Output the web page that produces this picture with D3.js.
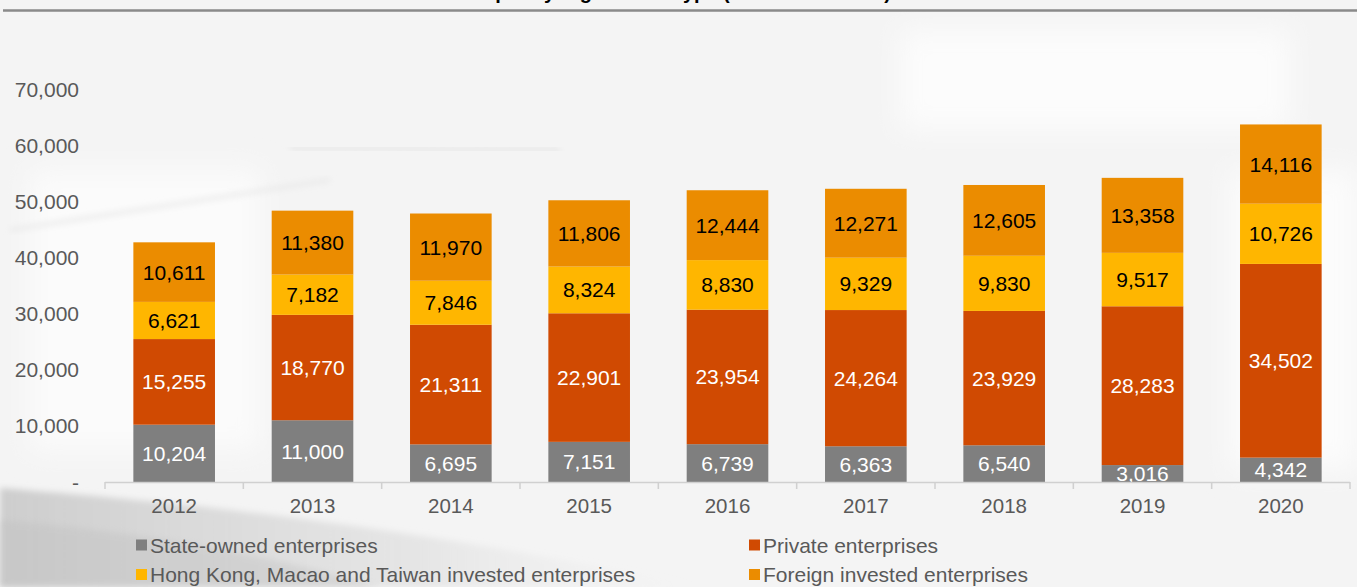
<!DOCTYPE html>
<html>
<head>
<meta charset="utf-8">
<script src="https://cdn.jsdelivr.net/npm/d3@7"></script>
<style>
  html, body { margin: 0; padding: 0; background: #f6f6f6; }
  svg { display: block; font-family: "Liberation Sans", Arial, sans-serif; }
</style>
</head>
<body>
<svg id="chart" width="1357" height="587"></svg>
<script>
// Industrial output by registration type, 2012-2020
const years = ["2012", "2013", "2014", "2015", "2016", "2017", "2018", "2019", "2020"];
const stateOwned = [10204, 11000, 6695, 7151, 6739, 6363, 6540, 3016, 4342];
const privateEnt = [15255, 18770, 21311, 22901, 23954, 24264, 23929, 28283, 34502];
const hkMacaoTaiwan = [6621, 7182, 7846, 8324, 8830, 9329, 9830, 9517, 10726];
const foreignInvested = [10611, 11380, 11970, 11806, 12444, 12271, 12605, 13358, 14116];
const yTicks = [0, 10000, 20000, 30000, 40000, 50000, 60000, 70000];

const seriesNames = [
  "State-owned enterprises",
  "Private enterprises",
  "Hong Kong, Macao and Taiwan invested enterprises",
  "Foreign invested enterprises"
];
const seriesColors = ["#7f7f7f", "#d04a02", "#ffb600", "#eb8c00"];
const labelColors = ["#ffffff", "#ffffff", "#000000", "#000000"];
const seriesValues = [stateOwned, privateEnt, hkMacaoTaiwan, foreignInvested];

const svg = d3.select("#chart");
const W = 1357, H = 587;

// ---- soft architectural backdrop ----
const defs = svg.append("defs");
const g1 = defs.append("linearGradient").attr("id", "bandGrad")
  .attr("x1", "0").attr("y1", "0").attr("x2", "1").attr("y2", "0");
g1.append("stop").attr("offset", "0").attr("stop-color", "#c9c9c9").attr("stop-opacity", 0.9);
g1.append("stop").attr("offset", "0.6").attr("stop-color", "#dcdcdc").attr("stop-opacity", 0.6);
g1.append("stop").attr("offset", "1").attr("stop-color", "#eeeeee").attr("stop-opacity", 0);
const soft = defs.append("filter").attr("id", "soft");
soft.append("feGaussianBlur").attr("stdDeviation", 3);
const haze = defs.append("filter").attr("id", "haze")
  .attr("x", "-20%").attr("y", "-20%").attr("width", "140%").attr("height", "140%");
haze.append("feGaussianBlur").attr("stdDeviation", 14);

const bg = svg.append("g").attr("class", "backdrop");
bg.append("rect").attr("width", W).attr("height", H).attr("fill", "#f4f4f4");
bg.append("rect").attr("x", 30).attr("y", 170).attr("width", 230).attr("height", 280)
  .attr("fill", "#fbfbfb").attr("filter", "url(#haze)");
bg.append("rect").attr("x", 900).attr("y", 30).attr("width", 390).attr("height", 100)
  .attr("fill", "#fcfcfc").attr("filter", "url(#haze)");
bg.append("rect").attr("x", 1230).attr("y", 170).attr("width", 127).attr("height", 300)
  .attr("fill", "#fcfcfc").attr("filter", "url(#haze)");
// window frames
const frames = [
  [0, 153, 272, 153], [290, 148, 560, 150], [880, 150, 1357, 150],
  [6, 20, 6, 140], [282, 20, 282, 480], [878, 20, 878, 140],
  [1168, 100, 1168, 480], [1310, 20, 1310, 150], [560, 20, 560, 140]
];
bg.selectAll("line.frame").data(frames).join("line")
  .attr("x1", d => d[0]).attr("y1", d => d[1]).attr("x2", d => d[2]).attr("y2", d => d[3])
  .attr("stroke", "#e4e4e4").attr("stroke-width", 4).attr("filter", "url(#soft)");
// diagonal strut
bg.append("line").attr("x1", 10).attr("y1", 230).attr("x2", 330).attr("y2", 180)
  .attr("stroke", "#e6e6e6").attr("stroke-width", 3).attr("filter", "url(#soft)");
// roof band at lower left
bg.append("path")
  .attr("d", "M0,488 C150,500 380,520 700,587 L0,587 Z")
  .attr("fill", "url(#bandGrad)").attr("filter", "url(#soft)");
bg.append("path")
  .attr("d", "M0,520 C120,530 250,550 380,587 L0,587 Z")
  .attr("fill", "#bdbdbd").attr("opacity", 0.35).attr("filter", "url(#soft)");

// ---- title (runs off the top edge) and rule ----
svg.append("text")
  .attr("x", 598).attr("y", -1)
  .attr("text-anchor", "middle")
  .attr("font-size", 20).attr("font-weight", "bold").attr("fill", "#000")
  .text("Gross industrial output by registration type (RMB 100 million)");
svg.append("line")
  .attr("x1", 3).attr("x2", W).attr("y1", 10.5).attr("y2", 10.5)
  .attr("stroke", "#8a8a8a").attr("stroke-width", 2.5);

// ---- scales ----
const x = d3.scaleBand().domain(years).range([105, 1350]).paddingInner(0.41).paddingOuter(0.205);
const y = d3.scaleLinear().domain([0, 70000]).range([482, 89]);

// stacked data
const rows = years.map((yr, i) => {
  const r = { year: yr };
  seriesNames.forEach((n, k) => { r[n] = seriesValues[k][i]; });
  return r;
});
const stacked = d3.stack().keys(seriesNames)(rows);

// ---- bars ----
const layers = svg.append("g").selectAll("g.layer").data(stacked).join("g")
  .attr("class", "layer").attr("fill", (d, k) => seriesColors[k]);
layers.selectAll("rect").data(d => d).join("rect")
  .attr("x", d => x(d.data.year))
  .attr("width", x.bandwidth())
  .attr("y", d => y(d[1]))
  .attr("height", d => y(d[0]) - y(d[1]));

// ---- value labels ----
const fmt = d3.format(",");
stacked.forEach((layer, k) => {
  svg.append("g").selectAll("text").data(layer).join("text")
    .attr("x", d => x(d.data.year) + x.bandwidth() / 2)
    .attr("y", d => (y(d[0]) + y(d[1])) / 2)
    .attr("dy", "0.36em")
    .attr("text-anchor", "middle")
    .attr("font-size", 21)
    .attr("fill", labelColors[k])
    .text(d => fmt(d[1] - d[0]));
});

// ---- x axis ----
const xAxisG = svg.append("g");
xAxisG.append("line").attr("x1", 105).attr("x2", 1350).attr("y1", 482.5).attr("y2", 482.5)
  .attr("stroke", "#d0d0d0").attr("stroke-width", 1.5);
const bounds = years.map(yr => x(yr) - x.step() * x.paddingInner() / 2).concat([1350]);
bounds[0] = 105;
xAxisG.selectAll("line.tick").data(bounds).join("line")
  .attr("class", "tick")
  .attr("x1", d => d).attr("x2", d => d).attr("y1", 482).attr("y2", 489)
  .attr("stroke", "#d0d0d0").attr("stroke-width", 1.5);
xAxisG.selectAll("text").data(years).join("text")
  .attr("x", d => x(d) + x.bandwidth() / 2)
  .attr("y", 506).attr("dy", "0.36em")
  .attr("text-anchor", "middle")
  .attr("font-size", 20.5).attr("fill", "#595959")
  .text(d => d);

// ---- y axis labels ----
svg.append("g").selectAll("text").data(yTicks).join("text")
  .attr("x", 79).attr("y", d => y(d)).attr("dy", "0.36em")
  .attr("text-anchor", "end")
  .attr("font-size", 21).attr("fill", "#595959")
  .text(d => d === 0 ? "-" : fmt(d));

// ---- legend ----
const legendPos = [[136, 545], [749, 545], [136, 574.5], [749, 574.5]];
const legend = svg.append("g").selectAll("g").data(seriesNames).join("g")
  .attr("transform", (d, k) => `translate(${legendPos[k][0]},${legendPos[k][1]})`);
legend.append("rect").attr("x", 0).attr("y", -5.5).attr("width", 11).attr("height", 11)
  .attr("fill", (d, k) => seriesColors[k]);
legend.append("text").attr("x", 14).attr("y", 0).attr("dy", "0.36em")
  .attr("font-size", 21).attr("fill", "#595959")
  .text(d => d);
</script>
</body>
</html>
